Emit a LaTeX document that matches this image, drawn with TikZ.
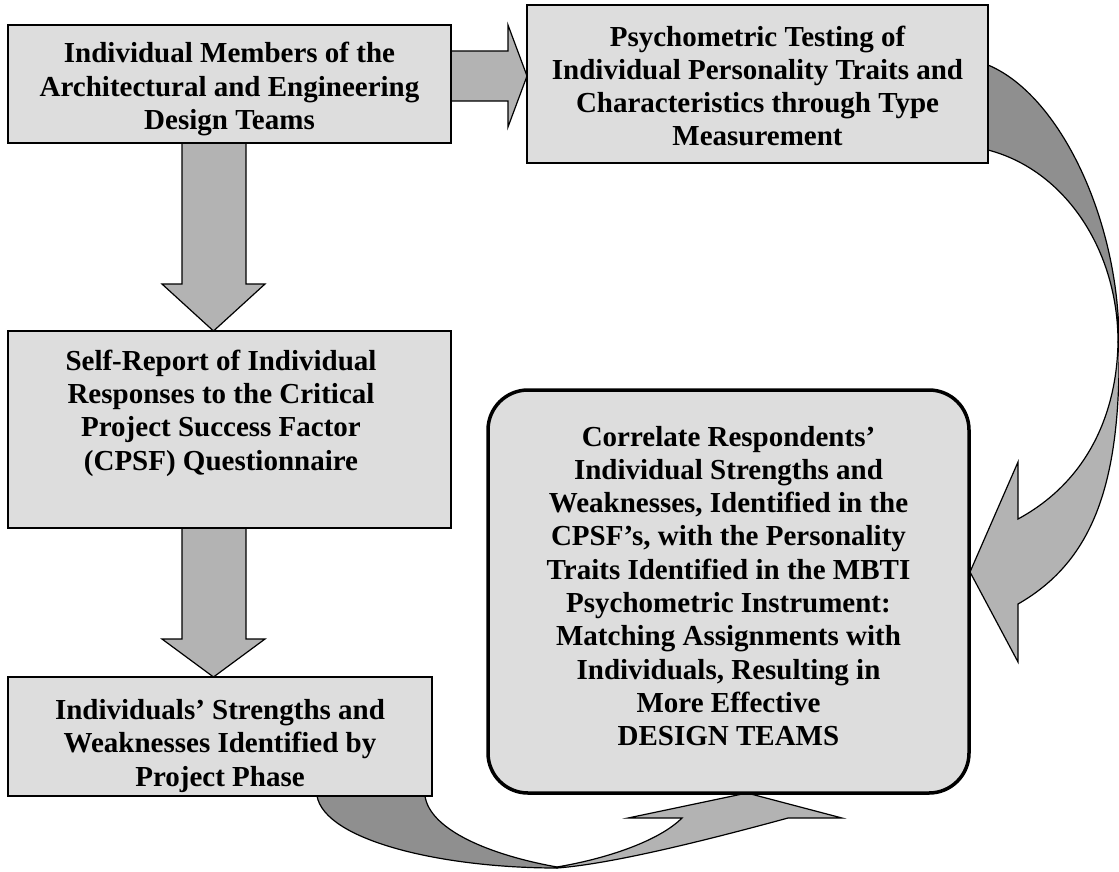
\documentclass[tikz,border=0pt]{standalone}
\usepackage{fontspec}
\setmainfont{Liberation Serif}
\definecolor{boxfill}{HTML}{DDDDDD}
\definecolor{arrlight}{HTML}{B3B3B3}
\definecolor{arrdark}{HTML}{8F8F8F}
\begin{document}
\begin{tikzpicture}[x=1pt,y=-1pt,
  box/.style={draw=black, line width=1.5pt, fill=boxfill, inner sep=0pt, outer sep=0pt},
  txt/.style={font=\bfseries\fontsize{29}{33.3}\selectfont, align=center, inner sep=0pt},
  lightarr/.style={fill=arrlight, draw=black, line width=1.2pt, line join=miter},
  darkarr/.style={fill=arrdark, draw=black, line width=1.2pt, line join=miter}]
\useasboundingbox (0,0) rectangle (1119,871);

% straight block arrows
\draw[lightarr] (451,51) -- (508,51) -- (508,25) -- (527,76) -- (508,127) -- (508,101) -- (451,101) -- cycle;
\draw[lightarr] (182,143) -- (246,143) -- (246,284) -- (265,284) -- (213.5,331) -- (162,284) -- (182,284) -- cycle;
\draw[lightarr] (182,528) -- (246,528) -- (246,639) -- (265,639) -- (213.5,677) -- (162,639) -- (182,639) -- cycle;

% right curved arrow
\draw[darkarr] (988,65) .. controls (1060,95) and (1119,220) .. (1119,342) -- (1118,342)
  .. controls (1118,250) and (1065,170) .. (988,150) -- cycle;
\draw[lightarr] (1118,342) .. controls (1117,410) and (1090,480) .. (1018,519) -- (1018,462) -- (970,572)
  -- (1018,662) -- (1018,604) .. controls (1095,560) and (1121,480) .. (1119,342) -- cycle;

% bottom curved arrow
\draw[darkarr] (317,796) .. controls (325,840) and (440,868) .. (557,868) -- (557,867)
  .. controls (490,855) and (430,830) .. (425,796) -- cycle;
\draw[lightarr] (557,867) .. controls (610,858) and (660,840) .. (682,818) -- (628,818) -- (747,793)
  -- (842,818) -- (788,818) .. controls (700,842) and (610,864) .. (557,868) -- cycle;

% boxes
\node[box, minimum width=443pt, minimum height=118pt] (b1) at (229.5,84) {};
\node[txt] (t1) at (229.5,89) {Individual Members of the\\Architectural and Engineering\\Design Teams};

\node[box, minimum width=461pt, minimum height=158pt] (b2) at (757.5,84) {};
\node[txt] (t2) at (757.5,86) {Psychometric Testing of\\Individual Personality Traits and\\Characteristics through Type\\Measurement};

\node[box, minimum width=443pt, minimum height=197pt] (b3) at (229.5,429.5) {};
\node[txt] (t3) at (221,413) {Self-Report of Individual\\Responses to the Critical\\Project Success Factor\\(CPSF) Questionnaire};

\node[box, minimum width=424pt, minimum height=119pt] (b4) at (220,736.5) {};
\begin{scope}
\clip (8,677) rectangle (432,796);
\node[txt] (t4) at (220,746) {Individuals’ Strengths and\\Weaknesses Identified by\\Project Phase};
\end{scope}
\draw[line width=1.5pt] (b4.south west) rectangle (b4.north east);

\node[box, line width=3.5pt, rounded corners=40pt, minimum width=481pt, minimum height=403pt] (b5) at (728.5,591.5) {};
\node[txt] (t5) at (728.5,586) {Correlate Respondents’\\Individual Strengths and\\Weaknesses, Identified in the\\CPSF’s, with the Personality\\Traits Identified in the MBTI\\Psychometric Instrument:\\Matching Assignments with\\Individuals, Resulting in\\More Effective\\DESIGN TEAMS};
\end{tikzpicture}
\end{document}
